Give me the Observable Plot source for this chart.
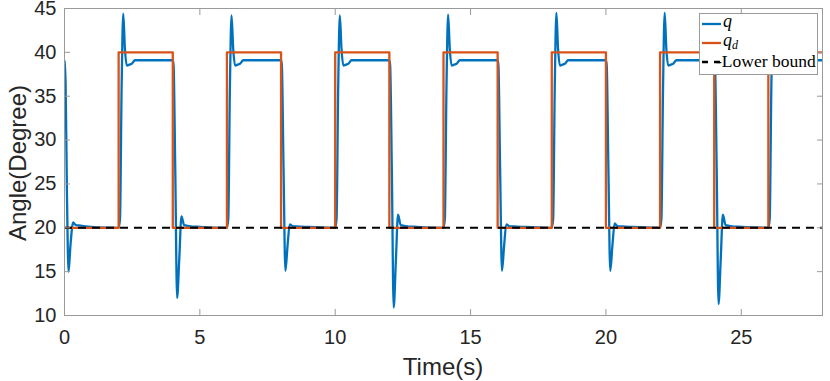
<!DOCTYPE html>
<html>
<head>
<meta charset="utf-8">
<script src="https://cdn.jsdelivr.net/npm/d3@7"></script>
<script src="https://cdn.jsdelivr.net/npm/@observablehq/plot@0.6"></script>
<style>
  * { -webkit-print-color-adjust: exact; print-color-adjust: exact; }
  html, body { margin: 0; padding: 0; background: #fff; }
  #chart { width: 830px; height: 381px; }
</style>
</head>
<body>
<div id="chart"></div>
<script>
// ---- tick labels ----
const xTicks = [0, 5, 10, 15, 20, 25];
const yTicks = [10, 15, 20, 25, 30, 35, 40, 45];

// ---- desired trajectory q_d (step-after) ----
const qdTime  = [0, 2, 4, 6, 8, 10, 12, 14, 16, 18, 20, 22, 24, 26, 28];
const qdAngle = [20, 40, 20, 40, 20, 40, 20, 40, 20, 40, 20, 40, 20, 40, 40];

// ---- lower bound ----
const lowerBound = [20];

const qTime = [
  0, 0.04, 0.09, 0.15, 0.22, 0.32, 0.42, 0.6, 0.8, 1.2, 2.0,
  2.05, 2.11, 2.17, 2.23, 2.3, 2.4, 2.5, 2.6, 4.0,
  4.03, 4.09, 4.16, 4.24, 4.32, 4.42, 4.6, 5.0, 6.0,
  6.05, 6.11, 6.17, 6.23, 6.3, 6.4, 6.5, 6.6, 8.0,
  8.03, 8.09, 8.16, 8.24, 8.32, 8.42, 8.6, 9.0, 10.0,
  10.05, 10.11, 10.17, 10.23, 10.3, 10.4, 10.5, 10.6, 12.0,
  12.03, 12.09, 12.16, 12.24, 12.32, 12.42, 12.6, 13.0, 14.0,
  14.05, 14.11, 14.17, 14.23, 14.3, 14.4, 14.5, 14.6, 16.0,
  16.03, 16.09, 16.16, 16.24, 16.32, 16.42, 16.6, 17.0, 18.0,
  18.05, 18.11, 18.17, 18.23, 18.3, 18.4, 18.5, 18.6, 20.0,
  20.03, 20.09, 20.16, 20.24, 20.32, 20.42, 20.6, 21.0, 22.0,
  22.05, 22.11, 22.17, 22.23, 22.3, 22.4, 22.5, 22.6, 24.0,
  24.03, 24.09, 24.16, 24.24, 24.32, 24.42, 24.6, 25.0, 26.0,
  26.05, 26.11, 26.17, 26.23, 26.3, 26.4, 26.5, 26.6, 28.0
];
const qAngle = [
  39.0, 36.5, 24.0, 15.0, 18.0, 20.6, 20.3, 20.25, 20.15, 20.05, 20.0,
  21.0, 36.0, 44.4, 40.5, 38.5, 38.6, 38.75, 39.1, 39.1,
  38.5, 27.0, 12.0, 16.5, 21.3, 20.3, 20.2, 20.1, 20.0,
  21.0, 36.0, 44.2, 40.5, 38.5, 38.6, 38.75, 39.1, 39.1,
  38.5, 27.0, 15.1, 18.0, 20.4, 20.2, 20.15, 20.1, 20.0,
  21.0, 36.0, 44.2, 40.5, 38.5, 38.6, 38.75, 39.1, 39.1,
  38.5, 27.0, 10.9, 16.2, 21.5, 20.3, 20.2, 20.1, 20.0,
  21.0, 36.0, 44.3, 40.5, 38.5, 38.6, 38.75, 39.1, 39.1,
  38.5, 27.0, 15.1, 18.0, 20.4, 20.2, 20.15, 20.1, 20.0,
  21.0, 36.0, 44.5, 40.5, 38.5, 38.6, 38.75, 39.1, 39.1,
  38.5, 27.0, 15.1, 18.0, 20.5, 20.2, 20.15, 20.1, 20.0,
  21.0, 36.0, 44.5, 40.5, 38.5, 38.6, 38.75, 39.1, 39.1,
  38.5, 27.0, 11.3, 16.4, 21.5, 20.3, 20.2, 20.1, 20.0,
  21.0, 36.0, 44.3, 40.5, 38.5, 38.6, 38.75, 39.1, 39.1
];

// ---- labels ----
const xLabel = "Time(s)";
const yLabel = "Angle(Degree)";
const legendLabels = ["q", "q_d", "Lower bound"];

const blue = "#0072BD", orange = "#D95319", boxGray = "#9a9a9a", textColor = "#262626";

const qData  = qTime.map((t, i) => ({t, v: qAngle[i]}));
const qdData = qdTime.map((t, i) => ({t, v: qdAngle[i]}));

const chart = Plot.plot({
  width: 830,
  height: 381,
  marginLeft: 64,
  marginRight: 8,
  marginTop: 8,
  marginBottom: 66,
  x: {domain: [0, 28]},
  y: {domain: [10, 45]},
  style: {fontFamily: "'Liberation Sans', Arial, sans-serif", color: textColor, background: "#fff", overflow: "visible"},
  marks: [
    Plot.line(qData, {x: "t", y: "v", stroke: blue, strokeWidth: 2.3, curve: "monotone-x", clip: true}),
    Plot.line(qdData, {x: "t", y: "v", stroke: orange, strokeWidth: 2.3, curve: "step-after", clip: true}),
    Plot.ruleY(lowerBound, {stroke: "#000", strokeWidth: 2, strokeDasharray: "8,6"}),
    Plot.frame({stroke: boxGray}),
    // tick labels
    Plot.axisX(xTicks, {anchor: "bottom", tickSize: 0, tickPadding: 14, fontSize: 20, label: null, fill: textColor}),
    Plot.axisY(yTicks, {anchor: "left", tickSize: 0, tickPadding: 8, fontSize: 20, label: null, fill: textColor}),
    // inward ticks on all four sides
    Plot.axisX(xTicks, {anchor: "bottom", tickSize: -6, tickFormat: () => "", label: null, stroke: boxGray}),
    Plot.axisX(xTicks, {anchor: "top", tickSize: -6, tickFormat: () => "", label: null, stroke: boxGray}),
    Plot.axisY(yTicks, {anchor: "left", tickSize: -6, tickFormat: () => "", label: null, stroke: boxGray}),
    Plot.axisY(yTicks, {anchor: "right", tickSize: -6, tickFormat: () => "", label: null, stroke: boxGray}),
    // legend box (pixel insets from the frame)
    Plot.frame({fill: "#ffffff", fillOpacity: 1, stroke: boxGray, strokeWidth: 1,
                insetLeft: 635, insetRight: 5, insetTop: 5, insetBottom: 241})
  ]
});

document.getElementById("chart").appendChild(chart);

// axis titles
const svg = d3.select(chart);
svg.append("text")
  .attr("x", 443).attr("y", 375)
  .attr("text-anchor", "middle")
  .attr("font-size", 24)
  .attr("fill", textColor)
  .text(xLabel);
svg.append("text")
  .attr("transform", "translate(26,163) rotate(-90)")
  .attr("text-anchor", "middle")
  .attr("font-size", 24)
  .attr("fill", textColor)
  .text(yLabel);

// legend entries
const lg = svg.append("g")
  .attr("font-family", "'Liberation Serif', 'DejaVu Serif', serif")
  .attr("text-anchor", "start")
  .attr("fill", "#000");
const rows = [
  {y: 24, color: blue, dash: "none"},
  {y: 43, color: orange, dash: "none"},
  {y: 62, color: "#000", dash: "6,6"}
];
rows.forEach(r => {
  lg.append("line")
    .attr("x1", 702).attr("x2", 721).attr("y1", r.y).attr("y2", r.y)
    .style("stroke", r.color).style("stroke-width", "2.3px").style("stroke-dasharray", r.dash);
});
lg.append("text").attr("x", 723).attr("y", 27).attr("font-size", 18).attr("font-style", "italic").text(legendLabels[0]);
const t2 = lg.append("text").attr("x", 723).attr("y", 46).attr("font-size", 18).attr("font-style", "italic");
t2.append("tspan").text(legendLabels[1].split("_")[0]);
t2.append("tspan").attr("font-size", 12).attr("dy", 3).text(legendLabels[1].split("_")[1]);
lg.append("text").attr("x", 716).attr("y", 67).attr("font-size", 17.5).text("-" + legendLabels[2]);
</script>
</body>
</html>
